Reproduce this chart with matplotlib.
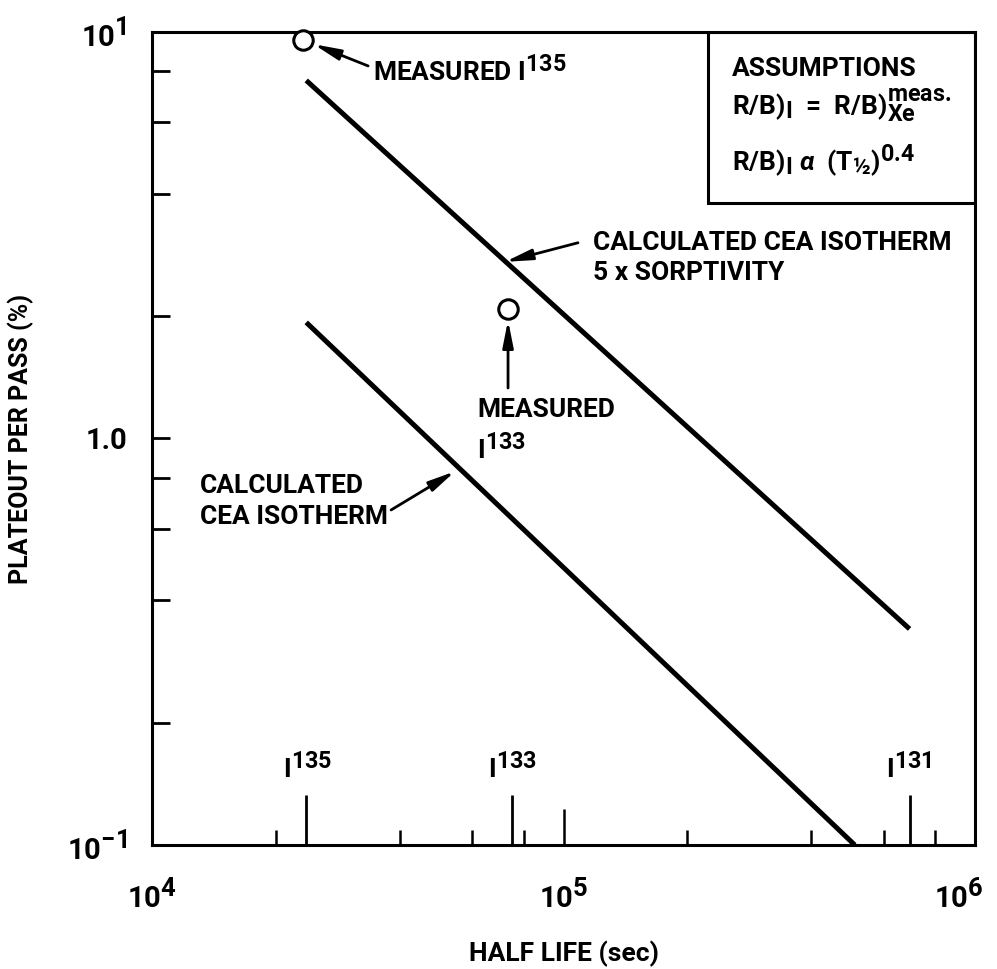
import numpy as np
import matplotlib
matplotlib.use('Agg')
import matplotlib.pyplot as plt
import matplotlib._mathtext as mathtext
from matplotlib.patches import Rectangle
from matplotlib.ticker import NullFormatter
from matplotlib.transforms import ScaledTranslation

plt.rcParams['font.family'] = ['Roboto', 'DejaVu Sans']
plt.rcParams['font.weight'] = 'bold'
plt.rcParams['axes.labelweight'] = 'bold'
plt.rcParams['mathtext.fontset'] = 'custom'
plt.rcParams['mathtext.rm'] = 'Roboto:bold'
plt.rcParams['mathtext.it'] = 'Roboto:italic:bold'
plt.rcParams['mathtext.bf'] = 'Roboto:bold'
# superscripts in the original are nearly full size
mathtext.SHRINK_FACTOR = 0.88

# isotopes and half lives (sec)
isotopes = ['135', '133', '131']
half_life = [2.37e4, 7.49e4, 6.93e5]

# calculated CEA isotherm, 5 x sorptivity
upper_x = [2.37e4, 6.93e5]
upper_y = [7.6, 0.34]

# calculated CEA isotherm
lower_x = [2.37e4, 5.1e5]
lower_y = [1.93, 0.1]

# measured I135, I133
meas_x = [2.33e4, 7.33e4]
meas_y = [9.55, 2.08]

fig = plt.figure(figsize=(9.97, 9.69), dpi=100)
ax = fig.add_axes([0.1525, 0.128, 0.8255, 0.839])
ax.set_xscale('log')
ax.set_yscale('log')
ax.set_xlim(1e4, 1e6)
ax.set_ylim(0.1, 10)

ax.plot(upper_x, upper_y, color='k', lw=3.6, solid_capstyle='butt')
ax.plot(lower_x, lower_y, color='k', lw=3.6, solid_capstyle='butt')
ax.plot(meas_x, meas_y, 'o', ms=14, mfc='white', mec='k', mew=2.2,
        clip_on=False, zorder=5)

for s in ax.spines.values():
    s.set_linewidth(2.2)

# ticks
ax.set_xticks([1e4, 1e5, 1e6], [r'$10^4$', r'$10^5$', r'$10^6$'])
ax.set_xticks([2e4, 4e4, 6e4, 8e4, 2e5, 4e5, 6e5, 8e5], minor=True)
ax.xaxis.set_minor_formatter(NullFormatter())
ax.tick_params(axis='x', which='major', direction='in', length=26, width=1.8,
               pad=24, labelsize=21)
ax.tick_params(axis='x', which='minor', direction='in', length=11, width=1.8)
ax.set_yticks([0.1, 1, 10], [r'$10^{-1}$', '1.0', r'$10^1$'])
ax.set_yticks([0.2, 0.4, 0.6, 0.8, 2, 4, 6, 8], minor=True)
ax.yaxis.set_minor_formatter(NullFormatter())
ax.tick_params(axis='y', which='both', direction='in', length=13, width=2,
               pad=18, labelsize=21)
# last x label sits a little left of the corner, as in the original
last = ax.get_xticklabels()[-1]
last.set_transform(last.get_transform() +
                   ScaledTranslation(-12 / 72, 0, fig.dpi_scale_trans))

# isotope markers on x axis
ax.vlines(half_life, 0, 0.062, transform=ax.get_xaxis_transform(),
          color='k', lw=2)
for iso, hl in zip(isotopes, half_life):
    ax.annotate(r'I$^{%s}$' % iso, xy=(hl, 0.075),
                xycoords=('data', 'axes fraction'), xytext=(-17, 0),
                textcoords='offset points', ha='left', va='bottom', fontsize=19)

ax.set_xlabel('HALF LIFE (sec)', fontsize=19, labelpad=20)
ax.set_ylabel('PLATEOUT PER PASS (%)', fontsize=18, labelpad=24)

arrow = dict(arrowstyle='-|>,head_length=1.6,head_width=0.32', lw=2,
             color='k', shrinkA=0)

# annotations
ax.text(3.44e4, 7.53, r'MEASURED I$^{135}$', fontsize=19, va='baseline')
ax.annotate('', xy=(meas_x[0], meas_y[0]), xytext=(3.35e4, 8.25),
            arrowprops=dict(arrow, shrinkB=8))

ax.text(1.18e5, 2.91, 'CALCULATED CEA ISOTHERM', fontsize=19, va='baseline')
ax.text(1.18e5, 2.455, '5 x SORPTIVITY', fontsize=19, va='baseline')
ax.annotate('', xy=(7.21e4, 2.72), xytext=(1.084e5, 3.03),
            arrowprops=dict(arrow, shrinkB=0))

ax.text(6.17e4, 1.129, 'MEASURED', fontsize=19, va='baseline')
ax.text(6.17e4, 0.885, r'I$^{133}$', fontsize=19, va='baseline')
ax.annotate('', xy=(meas_x[1], meas_y[1]), xytext=(meas_x[1], 1.331),
            arrowprops=dict(arrow, shrinkB=8))

ax.text(1.308e4, 0.7345, 'CALCULATED', fontsize=19, va='baseline')
ax.text(1.308e4, 0.616, 'CEA ISOTHERM', fontsize=19, va='baseline')
ax.annotate('', xy=(5.45e4, 0.83), xytext=(3.81e4, 0.667),
            arrowprops=dict(arrow, shrinkB=0))

# assumptions box
ax.add_patch(Rectangle((0.675, 0.79), 0.325, 0.21, transform=ax.transAxes,
                       fill=False, ec='k', lw=2.2))
ax.text(0.705, 0.9455, 'ASSUMPTIONS', transform=ax.transAxes, fontsize=19,
        va='baseline')
ax.text(0.705, 0.8985, r'R/B)$_\mathrm{I}$  =  R/B)$^{\mathrm{meas.}}_{\mathrm{Xe}}$',
        transform=ax.transAxes, fontsize=19, va='baseline')
ax.text(0.705, 0.829, r'R/B)$_\mathrm{I}$ $\alpha$  (T$_{½}$)$^{0.4}$',
        transform=ax.transAxes, fontsize=19, va='baseline')

fig.savefig('out.png', dpi=100)
